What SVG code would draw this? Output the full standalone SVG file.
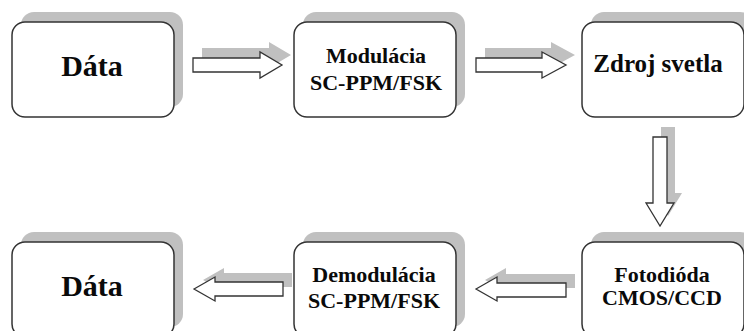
<svg xmlns="http://www.w3.org/2000/svg" xmlns:xlink="http://www.w3.org/1999/xlink" width="744" height="331" viewBox="0 0 744 331">
  <style>
    .shadow { fill: #c0c0c0; stroke: none; }
    .box { fill: #ffffff; stroke: #333333; stroke-width: 1.5; }
    .arrow { fill: #ffffff; stroke: #333333; stroke-width: 1.3; stroke-linejoin: miter; }
    text { font-family: 'Liberation Serif', 'Times New Roman', serif; font-weight: bold; fill: #0a0a0a; text-anchor: middle; }
  </style>
  <defs>
    <rect id="boxshape" x="0" y="0" width="162" height="95" rx="13" ry="13"/>
  </defs>
  <rect width="744" height="331" fill="#ffffff"/>

  <g id="connectors">
    <g id="a1">
      <polygon class="shadow" transform="translate(9,-10)" points="193,58 260,58 260,52 282,65 260,78 260,72 193,72"/>
      <polygon class="arrow" points="193,58 260,58 260,52 282,65 260,78 260,72 193,72"/>
    </g>
    <g id="a2">
      <polygon class="shadow" transform="translate(9,-10)" points="476,58 542,58 542,52 566,65 542,78 542,72 476,72"/>
      <polygon class="arrow" points="476,58 542,58 542,52 566,65 542,78 542,72 476,72"/>
    </g>
    <g id="a3">
      <polygon class="shadow" transform="translate(8,-10)" points="653,137 667,137 667,203 674,203 660,226 646,203 653,203"/>
      <polygon class="arrow" points="653,137 667,137 667,203 674,203 660,226 646,203 653,203"/>
    </g>
    <g id="a4">
      <polygon class="shadow" transform="translate(9,-9)" points="476,289 497,277 497,283 566,283 566,297 497,297 497,301"/>
      <polygon class="arrow" points="476,289 497,277 497,283 566,283 566,297 497,297 497,301"/>
    </g>
    <g id="a5">
      <polygon class="shadow" transform="translate(9,-9)" points="194,289 215,277 215,282 283,282 283,296 215,296 215,301"/>
      <polygon class="arrow" points="194,289 215,277 215,282 283,282 283,296 215,296 215,301"/>
    </g>
  </g>

  <g id="node-data-in" transform="translate(12,22)">
    <use xlink:href="#boxshape" class="shadow" transform="translate(9,-10)"/>
    <use xlink:href="#boxshape" class="box"/>
    <text x="80" y="54" font-size="30">Dáta</text>
  </g>

  <g id="node-modulacia" transform="translate(294,22)">
    <use xlink:href="#boxshape" class="shadow" transform="translate(9,-10)"/>
    <use xlink:href="#boxshape" class="box"/>
    <text x="82" y="41" font-size="22">Modulácia</text>
    <text x="82" y="68" font-size="22">SC-PPM/FSK</text>
  </g>

  <g id="node-zdroj" transform="translate(582,22)">
    <use xlink:href="#boxshape" class="shadow" transform="translate(9,-10)"/>
    <use xlink:href="#boxshape" class="box"/>
    <text x="76" y="50" font-size="25">Zdroj svetla</text>
  </g>

  <g id="node-fotodioda" transform="translate(582,242)">
    <use xlink:href="#boxshape" class="shadow" transform="translate(9,-10)"/>
    <use xlink:href="#boxshape" class="box"/>
    <text x="80" y="40" font-size="22">Fotodióda</text>
    <text x="80" y="63" font-size="22">CMOS/CCD</text>
  </g>

  <g id="node-demodulacia" transform="translate(294,242)">
    <use xlink:href="#boxshape" class="shadow" transform="translate(9,-10)"/>
    <use xlink:href="#boxshape" class="box"/>
    <text x="80" y="40" font-size="22">Demodulácia</text>
    <text x="80" y="66" font-size="22">SC-PPM/FSK</text>
  </g>

  <g id="node-data-out" transform="translate(12,242)">
    <use xlink:href="#boxshape" class="shadow" transform="translate(9,-10)"/>
    <use xlink:href="#boxshape" class="box"/>
    <text x="80" y="54" font-size="30">Dáta</text>
  </g>
</svg>
